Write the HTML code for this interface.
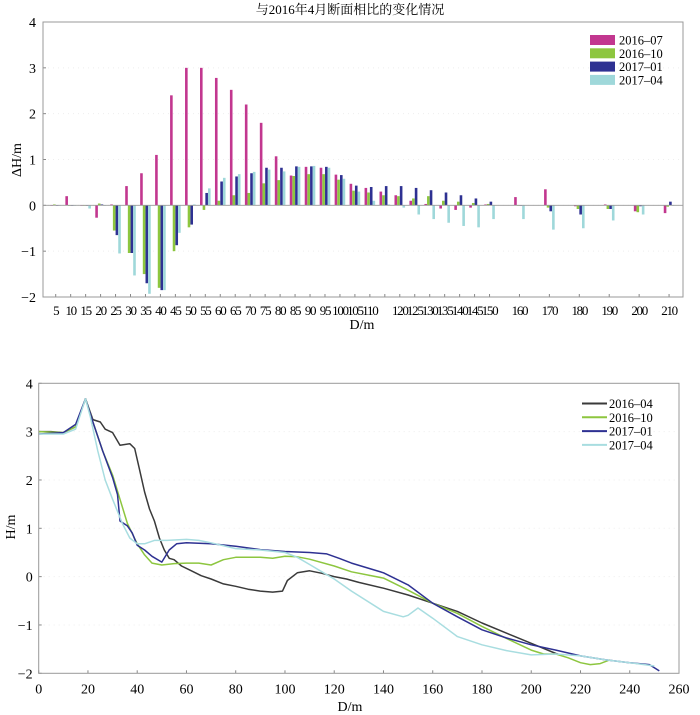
<!DOCTYPE html>
<html><head><meta charset="utf-8">
<style>
body{margin:0;background:#fff;}
svg{display:block;font-family:"Liberation Serif","Noto Serif CJK SC",serif;}
</style></head>
<body>
<svg id="c" width="700" height="715" viewBox="0 0 700 715">
<text x="350" y="14" text-anchor="middle" font-size="13" font-family="Liberation Serif, Noto Serif CJK SC, serif">与2016年4月断面相比的变化情况</text>
<g id="top"></g>
<g id="bot"></g>
</svg>
<script>
const NS='http://www.w3.org/2000/svg';
function mk(parent,tag,attrs,txt){const e=document.createElementNS(NS,tag);for(const k in attrs)e.setAttribute(k,attrs[k]);if(txt!==undefined)e.textContent=txt;parent.appendChild(e);return e;}

// ---------- Top chart data ----------
const barCats=[5,10,15,20,25,30,35,40,45,50,55,60,65,70,75,80,85,90,95,100,105,110,115,120,125,130,135,140,145,150,160,170,180,190,200,210];
const barSeriesNames=['2016-07','2016-10','2017-01','2017-04'];
const bar201607=[0,0.2,0,-0.27,0.02,0.42,0.7,1.1,2.4,3.0,3.0,2.78,2.52,2.2,1.8,1.07,0.65,0.84,0.82,0.67,0.47,0.38,0.3,0.22,0.1,0.03,-0.07,-0.1,-0.05,0.02,0.18,0.35,-0.02,0.02,-0.13,-0.17];
const bar201610=[0.02,0,0,0.04,-0.55,-1.04,-1.5,-1.8,-1.0,-0.48,-0.1,0.1,0.22,0.27,0.48,0.55,0.64,0.68,0.68,0.56,0.32,0.28,0.22,0.2,0.15,0.2,0.1,0.08,0.05,0.03,0,-0.05,-0.08,-0.08,-0.15,-0.03];
const bar201701=[0,0,0,0.02,-0.65,-1.04,-1.7,-1.85,-0.87,-0.42,0.27,0.52,0.63,0.7,0.82,0.82,0.85,0.85,0.84,0.66,0.43,0.4,0.42,0.42,0.38,0.33,0.28,0.22,0.15,0.08,0,-0.13,-0.2,-0.08,-0.02,0.08];
const bar201704=[0,0,-0.07,0,-1.05,-1.53,-1.93,-1.85,-0.6,0.02,0.37,0.6,0.68,0.73,0.78,0.74,0.84,0.86,0.82,0.58,0.3,0.1,0.02,-0.05,-0.2,-0.3,-0.38,-0.45,-0.48,-0.3,-0.3,-0.53,-0.5,-0.33,-0.2,0];
const barTicksY=[-2,-1,0,1,2,3,4];
const barColors=['#c2378f','#8dc63f','#2e3192','#9fd8da'];

(function(){
  const g=document.getElementById('top');
  const L=43,R=683,T=22,B=297;
  const y=v=>B-(v+2)/6*(B-T);
  const slot=d=>d<=150?(d-5)/5:29+(d-150)/10*2;
  const x=d=>55.7+slot(d)*14.96;
  for(const t of barTicksY){
    if(t>-2&&t<4){const gl=mk(g,'line',{x1:L,x2:R,y1:y(t),y2:y(t),stroke:'#eee','stroke-dasharray':'1,4'});}
    const tk=mk(g,'line',{x1:L,x2:L+3,y1:y(t),y2:y(t),stroke:'#888'});
    const lb=mk(g,'text',{x:L-7,y:y(t)+5,'text-anchor':'end','font-size':14},t<0?'\u2212'+(-t):String(t));
    
  }
  const series=[bar201607,bar201610,bar201701,bar201704];
  const offs=[-4,-1.35,1.35,4];
  series.forEach((s,si)=>{
    barCats.forEach((d,i)=>{
      const v=s[i];const y0=y(0),y1=y(v);
      const r=mk(g,'rect',{x:x(d)+offs[si]-1.3,y:Math.min(y0,y1),width:2.6,height:Math.max(0.4,Math.abs(y1-y0)),fill:barColors[si]});
      
      
    });
  });
  const zl=mk(g,'line',{x1:L,x2:R,y1:y(0),y2:y(0),stroke:'#999','stroke-width':0.8});
  
  barCats.forEach(d=>{
    const tk=mk(g,'line',{x1:x(d),x2:x(d),y1:B,y2:B-3,stroke:'#888'});
    
    if(d===115)return;
    const lb=mk(g,'text',{x:x(d),y:B+18,'text-anchor':'middle','font-size':13,'letter-spacing':'-1.3'},String(d));
    
  });
  const fr=mk(g,'rect',{x:L,y:T,width:R-L,height:B-T,fill:'none',stroke:'#999'});
  
  const xt=mk(g,'text',{x:362,y:329,'text-anchor':'middle','font-size':14},'D/m');
  
  const yt=mk(g,'text',{x:0,y:0,'text-anchor':'middle','font-size':14,transform:'translate(21,160) rotate(-90)'},'\u0394H/m');
  
  barSeriesNames.forEach((n,i)=>{
    const ly=40+i*13.3;
    const lr=mk(g,'rect',{x:590,y:ly-5,width:25,height:10,fill:barColors[i]});
    
    const lt=mk(g,'text',{x:619,y:ly+4.5,'font-size':12.5},n.replace('-','\u2013'));
    
  });
})();

// ---------- Bottom chart data ----------
const lineNames=['2016-04','2016-10','2017-01','2017-04'];
const d201604=[0,5,10,15,19,22,25,27,30,33,37,39,41,43,45,47,49,51,53,55,58,62,66,70,75,80,85,90,95,99,101,105,110,115,120,125,130,140,150,160,170,180,190,200,210,212];
const h201604=[3.0,3.0,2.98,3.1,3.68,3.25,3.2,3.05,2.98,2.72,2.75,2.65,2.2,1.75,1.4,1.15,0.8,0.55,0.38,0.35,0.22,0.12,0.02,-0.05,-0.15,-0.2,-0.26,-0.3,-0.32,-0.3,-0.08,0.08,0.12,0.07,0.0,-0.05,-0.12,-0.24,-0.38,-0.55,-0.72,-0.96,-1.17,-1.38,-1.59,-1.62];
const d201610=[0,10,15,19,22,26,30,33,36,40,43,46,50,55,60,65,70,75,80,90,95,100,105,110,120,127,140,150,160,170,180,190,200,205,210,215,220,224,228,232];
const h201610=[3.0,2.98,3.1,3.68,3.2,2.6,2.1,1.6,1.1,0.68,0.45,0.28,0.24,0.27,0.28,0.28,0.24,0.35,0.4,0.4,0.38,0.42,0.41,0.36,0.22,0.1,-0.03,-0.28,-0.55,-0.76,-1.03,-1.28,-1.52,-1.6,-1.6,-1.68,-1.78,-1.82,-1.8,-1.72];
const d201701=[0,10,15,19,22,26,30,32,33,36,38,40,43,46,50,53,56,60,70,80,90,100,110,117,122,127,140,150,160,170,180,190,200,210,220,230,240,248,252];
const h201701=[2.95,2.98,3.15,3.68,3.2,2.6,2.05,1.7,1.15,1.05,0.9,0.65,0.55,0.42,0.3,0.55,0.68,0.7,0.68,0.63,0.56,0.52,0.5,0.47,0.38,0.28,0.08,-0.17,-0.55,-0.83,-1.1,-1.27,-1.41,-1.52,-1.64,-1.72,-1.78,-1.82,-1.95];
const d201704=[0,10,15,19,21,24,27,30,34,37,40,43,47,52,60,65,70,80,90,100,105,110,115,120,127,140,148,150,154,160,170,180,190,200,210,220,230,240,250];
const h201704=[2.95,2.95,3.05,3.68,3.3,2.6,2.0,1.6,1.1,0.8,0.68,0.68,0.75,0.75,0.77,0.75,0.7,0.58,0.55,0.5,0.4,0.25,0.1,-0.05,-0.3,-0.72,-0.83,-0.8,-0.65,-0.86,-1.24,-1.41,-1.53,-1.62,-1.6,-1.64,-1.72,-1.78,-1.85];
const lineXTicks=[0,20,40,60,80,100,120,140,160,180,200,220,240,260];
const lineYTicks=[-2,-1,0,1,2,3,4];
const lineColors=['#3a3a3a','#8dc63f','#2e3192','#a8dde0'];

(function(){
  const g=document.getElementById('bot');
  const L=38.7,R=679,T=383.3,B=673.3;
  const x=d=>L+d/260*(R-L);
  const y=v=>B-(v+2)/6*(B-T);
  for(const t of lineYTicks){
    if(t>-2&&t<4){const gl=mk(g,'line',{x1:L,x2:R,y1:y(t),y2:y(t),stroke:'#eee','stroke-dasharray':'1,4'});}
    const tk=mk(g,'line',{x1:L,x2:L+3,y1:y(t),y2:y(t),stroke:'#888'});
    const lb=mk(g,'text',{x:L-6,y:y(t)+5,'text-anchor':'end','font-size':14},t<0?'\u2212'+(-t):String(t));
    
  }
  for(const t of lineXTicks){
    const tk=mk(g,'line',{x1:x(t),x2:x(t),y1:B,y2:B-3,stroke:'#888'});
    const lb=mk(g,'text',{x:x(t),y:B+20,'text-anchor':'middle','font-size':14},String(t));
    
  }
  const ds=[d201604,d201610,d201701,d201704],hs=[h201604,h201610,h201701,h201704];
  ds.forEach((dd,si)=>{
    const pts=dd.map((d,i)=>x(d).toFixed(1)+','+y(hs[si][i]).toFixed(1)).join(' ');
    const pl=mk(g,'polyline',{points:pts,fill:'none',stroke:lineColors[si],'stroke-width':1.5,'stroke-linejoin':'round'});
    
    
  });
  const fr=mk(g,'rect',{x:L,y:T,width:R-L,height:B-T,fill:'none',stroke:'#999'});
  
  const xt=mk(g,'text',{x:350,y:711,'text-anchor':'middle','font-size':14},'D/m');
  
  const yt=mk(g,'text',{x:0,y:0,'text-anchor':'middle','font-size':14,transform:'translate(15,527) rotate(-90)'},'H/m');
  
  lineNames.forEach((n,i)=>{
    const ly=403.5+i*13.8;
    const ll=mk(g,'line',{x1:582,x2:607,y1:ly,y2:ly,stroke:lineColors[i],'stroke-width':2});
    
    const lt=mk(g,'text',{x:609,y:ly+4.5,'font-size':12.5},n.replace('-','\u2013'));
    
  });
})();
</script>
</body></html>
